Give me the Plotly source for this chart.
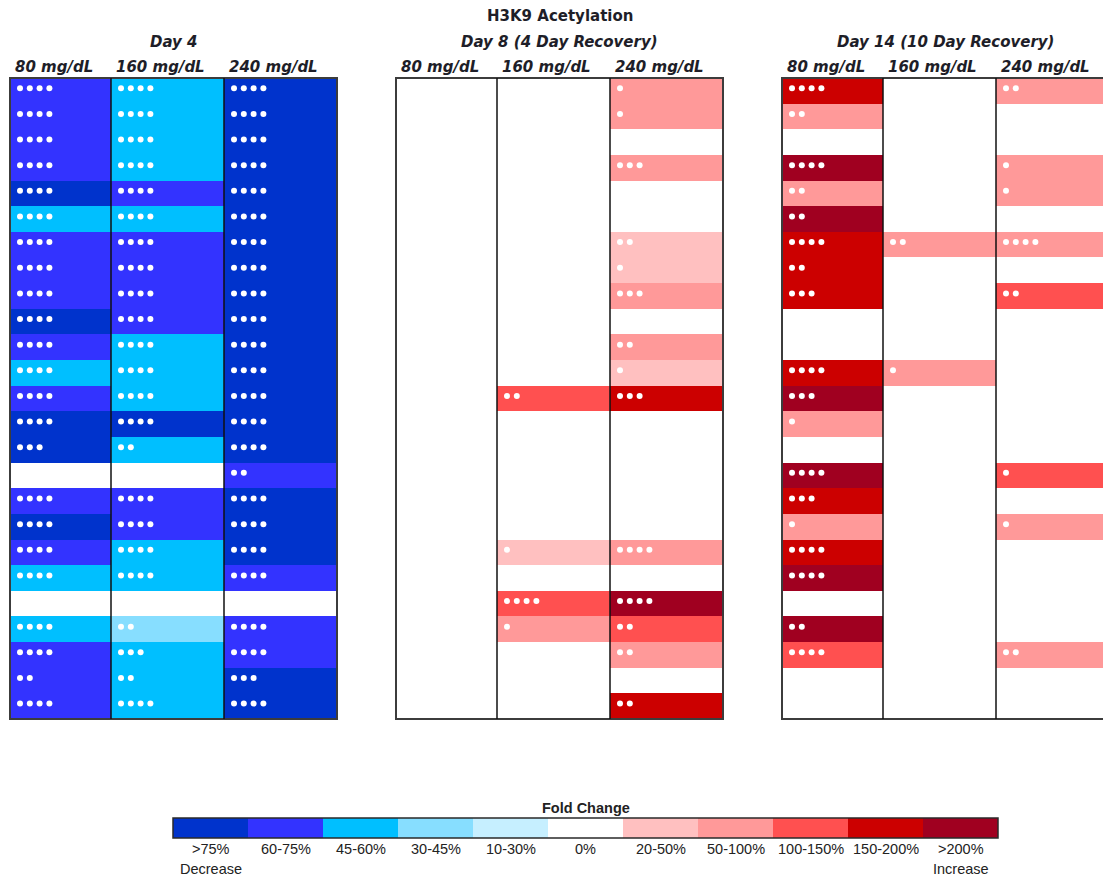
import plotly.graph_objects as go

# ---------------------------------------------------------------
# Data: fold-change class per cell (index into FOLD_LABELS) and
# number of significance marks per cell, 25 loci x 3 doses.
# ---------------------------------------------------------------
FOLD_LABELS = [">75%", "60-75%", "45-60%", "30-45%", "10-30%", "0%",
               "20-50%", "50-100%", "100-150%", "150-200%", ">200%"]
FOLD_COLORS = ["#0033CC", "#3333FF", "#00BFFF", "#87DEFF", "#C6EFFF", "#FFFFFF",
               "#FFC0C0", "#FF9999", "#FF5050", "#CC0000", "#A00020"]
DOSES = ["80 mg/dL", "160 mg/dL", "240 mg/dL"]
PANELS = ["Day 4", "Day 8 (4 Day Recovery)", "Day 14 (10 Day Recovery)"]

# Day 4
day4_80 = [1, 1, 1, 1, 0, 2, 1, 1, 1, 0, 1, 2, 1, 0, 0, 5, 1, 0, 1, 2, 5, 2, 1, 1, 1]
day4_160 = [2, 2, 2, 2, 1, 2, 1, 1, 1, 1, 2, 2, 2, 0, 2, 5, 1, 1, 2, 2, 5, 3, 2, 2, 2]
day4_240 = [0, 0, 0, 0, 0, 0, 0, 0, 0, 0, 0, 0, 0, 0, 0, 1, 0, 0, 0, 1, 5, 1, 1, 0, 0]
sig4_80 = [4, 4, 4, 4, 4, 4, 4, 4, 4, 4, 4, 4, 4, 4, 3, 0, 4, 4, 4, 4, 0, 4, 4, 2, 4]
sig4_160 = [4, 4, 4, 4, 4, 4, 4, 4, 4, 4, 4, 4, 4, 4, 2, 0, 4, 4, 4, 4, 0, 2, 3, 2, 4]
sig4_240 = [4, 4, 4, 4, 4, 4, 4, 4, 4, 4, 4, 4, 4, 4, 4, 2, 4, 4, 4, 4, 0, 4, 4, 3, 4]

# Day 8 (4 day recovery)
day8_80 = [5, 5, 5, 5, 5, 5, 5, 5, 5, 5, 5, 5, 5, 5, 5, 5, 5, 5, 5, 5, 5, 5, 5, 5, 5]
day8_160 = [5, 5, 5, 5, 5, 5, 5, 5, 5, 5, 5, 5, 8, 5, 5, 5, 5, 5, 6, 5, 8, 7, 5, 5, 5]
day8_240 = [7, 7, 5, 7, 5, 5, 6, 6, 7, 5, 7, 6, 9, 5, 5, 5, 5, 5, 7, 5, 10, 8, 7, 5, 9]
sig8_80 = [0, 0, 0, 0, 0, 0, 0, 0, 0, 0, 0, 0, 0, 0, 0, 0, 0, 0, 0, 0, 0, 0, 0, 0, 0]
sig8_160 = [0, 0, 0, 0, 0, 0, 0, 0, 0, 0, 0, 0, 2, 0, 0, 0, 0, 0, 1, 0, 4, 1, 0, 0, 0]
sig8_240 = [1, 1, 0, 3, 0, 0, 2, 1, 3, 0, 2, 1, 3, 0, 0, 0, 0, 0, 4, 0, 4, 2, 2, 0, 2]

# Day 14 (10 day recovery)
day14_80 = [9, 7, 5, 10, 7, 10, 9, 9, 9, 5, 5, 9, 10, 7, 5, 10, 9, 7, 9, 10, 5, 10, 8, 5, 5]
day14_160 = [5, 5, 5, 5, 5, 5, 7, 5, 5, 5, 5, 7, 5, 5, 5, 5, 5, 5, 5, 5, 5, 5, 5, 5, 5]
day14_240 = [7, 5, 5, 7, 7, 5, 7, 5, 8, 5, 5, 5, 5, 5, 5, 8, 5, 7, 5, 5, 5, 5, 7, 5, 5]
sig14_80 = [4, 2, 0, 4, 2, 2, 4, 2, 3, 0, 0, 4, 3, 1, 0, 4, 3, 1, 4, 4, 0, 2, 4, 0, 0]
sig14_160 = [0, 0, 0, 0, 0, 0, 2, 0, 0, 0, 0, 1, 0, 0, 0, 0, 0, 0, 0, 0, 0, 0, 0, 0, 0]
sig14_240 = [2, 0, 0, 1, 1, 0, 4, 0, 2, 0, 0, 0, 0, 0, 0, 1, 0, 1, 0, 0, 0, 0, 2, 0, 0]

panel_levels = [[day4_80, day4_160, day4_240],
                [day8_80, day8_160, day8_240],
                [day14_80, day14_160, day14_240]]
panel_marks = [[sig4_80, sig4_160, sig4_240],
               [sig8_80, sig8_160, sig8_240],
               [sig14_80, sig14_160, sig14_240]]

# ---------------------------------------------------------------
# Page geometry (pixels)
# ---------------------------------------------------------------
W, H = 1103, 879
PANEL_LEFT = [10, 396, 782]
COL_EDGES = [0, 101, 214, 327]
GRID_TOP, GRID_BOTTOM = 78, 719
BAR_LEFT, BAR_RIGHT, BAR_TOP, BAR_BOTTOM = 173, 998, 818, 838
HEAD_FONT = "DejaVu Sans"
LEG_FONT = "Liberation Sans, Arial, sans-serif"


def fx(px):
    return px / W


def fy(py):
    return 1 - py / H


n_rows = len(day4_80)
n_cls = len(FOLD_COLORS)

# discrete colour scale: one flat band per fold-change class
colorscale = []
for i, c in enumerate(FOLD_COLORS):
    colorscale.append([i / n_cls, c])
    colorscale.append([(i + 1) / n_cls, c])

fig = go.Figure()
layout_axes = {}
shapes = []
annotations = []

for p in range(3):
    xa = "x" if p == 0 else f"x{p + 1}"
    ax_name = "xaxis" if p == 0 else f"xaxis{p + 1}"
    left = PANEL_LEFT[p]
    right_px = min(left + COL_EDGES[-1], W)

    z = [[panel_levels[p][c][r] for c in range(3)] for r in range(n_rows)]
    fig.add_trace(go.Heatmap(
        z=z, x=COL_EDGES, y=list(range(n_rows)),
        colorscale=colorscale, zmin=-0.5, zmax=n_cls - 0.5,
        showscale=False, xaxis=xa, yaxis="y", hoverinfo="skip",
    ))

    # significance marks, drawn as small white dots in each cell
    mx, my = [], []
    for c in range(3):
        for r in range(n_rows):
            for k in range(panel_marks[p][c][r]):
                mx.append(COL_EDGES[c] + 10 + 9.8 * k)
                my.append(r - 0.1)
    fig.add_trace(go.Scatter(
        x=mx, y=my, mode="markers", xaxis=xa, yaxis="y",
        marker=dict(symbol="circle", size=6, color="white", line=dict(width=0)),
        hoverinfo="skip", showlegend=False, cliponaxis=False,
    ))

    layout_axes[ax_name] = dict(
        domain=[fx(left), fx(right_px)], range=[0, right_px - left],
        anchor="y", showgrid=False, zeroline=False, showticklabels=False,
        ticks="", fixedrange=True,
    )

    # panel frame and column dividers
    shapes.append(dict(type="rect", xref="paper", yref="paper",
                       x0=fx(left), x1=fx(left + COL_EDGES[-1]),
                       y0=fy(GRID_BOTTOM), y1=fy(GRID_TOP),
                       line=dict(color="#3c3c3c", width=2), layer="above"))
    for e in COL_EDGES[1:-1]:
        shapes.append(dict(type="line", xref="paper", yref="paper",
                           x0=fx(left + e), x1=fx(left + e),
                           y0=fy(GRID_BOTTOM), y1=fy(GRID_TOP),
                           line=dict(color="#111111", width=1.5), layer="above"))

    # panel heading and dose headings
    annotations.append(dict(
        text=f"<b><i>{PANELS[p]}</i></b>", xref="paper", yref="paper",
        x=fx(left + COL_EDGES[-1] / 2), y=fy(42), xanchor="center", yanchor="middle",
        showarrow=False, font=dict(family=HEAD_FONT, size=15, color="#1e1e28"),
    ))
    for c in range(3):
        annotations.append(dict(
            text=f"<b><i>{DOSES[c]}</i></b>", xref="paper", yref="paper",
            x=fx(left + COL_EDGES[c] + 3), y=fy(67), xanchor="left", yanchor="middle",
            showarrow=False, font=dict(family=HEAD_FONT, size=15, color="#1e1e28"),
        ))

annotations.append(dict(
    text="<b>H3K9 Acetylation</b>", xref="paper", yref="paper",
    x=fx(560), y=fy(16), xanchor="center", yanchor="middle", showarrow=False,
    font=dict(family=HEAD_FONT, size=15, color="#1e1e28"),
))

# ---------------------------------------------------------------
# Fold-change key
# ---------------------------------------------------------------
fig.add_trace(go.Heatmap(
    z=[list(range(n_cls))], x=list(range(n_cls)), y=[0],
    colorscale=colorscale, zmin=-0.5, zmax=n_cls - 0.5,
    showscale=False, xaxis="x4", yaxis="y4", hoverinfo="skip",
))
layout_axes["xaxis4"] = dict(domain=[fx(BAR_LEFT), fx(BAR_RIGHT)], range=[-0.5, n_cls - 0.5],
                             anchor="y4", showgrid=False, zeroline=False,
                             showticklabels=False, ticks="", fixedrange=True)
layout_axes["yaxis4"] = dict(domain=[fy(BAR_BOTTOM), fy(BAR_TOP)], range=[-0.5, 0.5],
                             anchor="x4", showgrid=False, zeroline=False,
                             showticklabels=False, ticks="", fixedrange=True)
shapes.append(dict(type="rect", xref="paper", yref="paper",
                   x0=fx(BAR_LEFT), x1=fx(BAR_RIGHT), y0=fy(BAR_BOTTOM), y1=fy(BAR_TOP),
                   line=dict(color="#2a2a2a", width=1.5), layer="above"))

LEG_SIZE = 14.5
for i, lab in enumerate(FOLD_LABELS):
    annotations.append(dict(
        text=lab, xref="x4", yref="paper", x=i, y=fy(849),
        xanchor="center", yanchor="middle", showarrow=False,
        font=dict(family=LEG_FONT, size=LEG_SIZE, color="#222222"),
    ))
annotations.append(dict(text="Decrease", xref="x4", yref="paper", x=0, y=fy(869),
                        xanchor="center", yanchor="middle", showarrow=False,
                        font=dict(family=LEG_FONT, size=LEG_SIZE, color="#222222")))
annotations.append(dict(text="Increase", xref="x4", yref="paper", x=n_cls - 1, y=fy(869),
                        xanchor="center", yanchor="middle", showarrow=False,
                        font=dict(family=LEG_FONT, size=LEG_SIZE, color="#222222")))
annotations.append(dict(text="<b>Fold Change</b>", xref="paper", yref="paper",
                        x=fx((BAR_LEFT + BAR_RIGHT) / 2), y=fy(808),
                        xanchor="center", yanchor="middle", showarrow=False,
                        font=dict(family=LEG_FONT, size=LEG_SIZE, color="#222222")))

fig.update_layout(
    width=W, height=H,
    margin=dict(l=0, r=0, t=0, b=0),
    paper_bgcolor="white", plot_bgcolor="white",
    showlegend=False,
    yaxis=dict(domain=[fy(GRID_BOTTOM), fy(GRID_TOP)], range=[n_rows - 0.5, -0.5],
               anchor="x", showgrid=False, zeroline=False, showticklabels=False,
               ticks="", fixedrange=True),
    shapes=shapes,
    annotations=annotations,
    **layout_axes,
)

fig.write_html("out.html", config={"displayModeBar": False})
